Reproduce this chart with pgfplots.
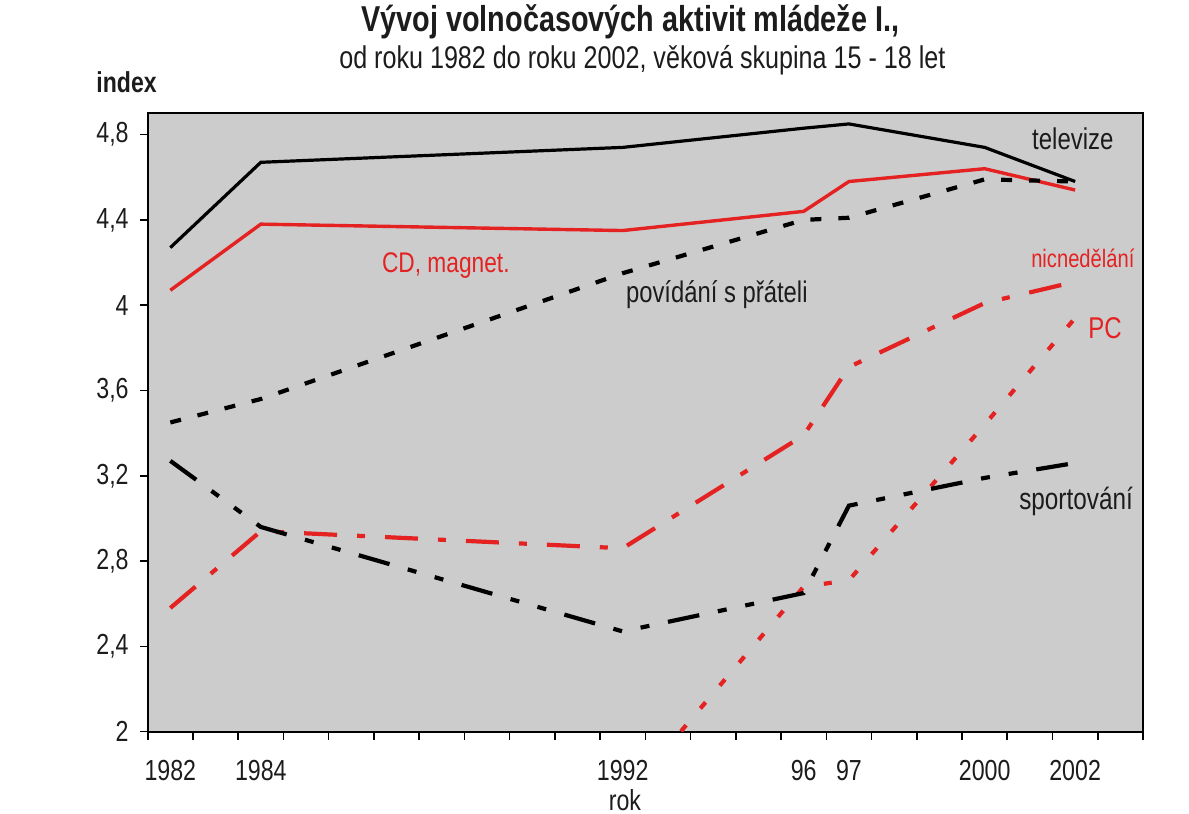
\documentclass[border=0pt]{standalone}
\usepackage{fontspec}
\setmainfont{Liberation Sans}[FakeStretch=0.8]
\usepackage{pgfplots}
\pgfplotsset{compat=1.18}
\definecolor{bg}{RGB}{204,204,205}
\definecolor{myred}{RGB}{228,34,34}
\definecolor{txt}{RGB}{28,28,28}
\begin{document}
\begin{tikzpicture}
\begin{axis}[
  name=ax, scale only axis, width=497.65pt, height=309.2pt,
  xmin=1981.5, xmax=2003.5, ymin=2, ymax=4.9,
  axis background/.style={fill=bg},
  axis line style={black, line width=1pt},
  clip mode=individual,
  tick align=outside,
  xtick pos=bottom, ytick pos=left,
  xtick={1981.5,1982.5,1983.5,1984.5,1985.5,1986.5,1987.5,1988.5,1989.5,1990.5,1991.5,1992.5,1993.5,1994.5,1995.5,1996.5,1997.5,1998.5,1999.5,2000.5,2001.5,2002.5,2003.5},
  xticklabels={},
  extra x ticks={1982,1984,1992,1996,1997,2000,2002},
  extra x tick labels={1982,1984,1992,96,97,2000,2002},
  extra x tick style={major tick length=0pt, tick style={draw=none}},
  major x tick style={black, line width=0.8pt},
  ytick={2,2.4,2.8,3.2,3.6,4,4.4,4.8},
  yticklabels={2,{2,4},{2,8},{3,2},{3,6},4,{4,4},{4,8}},
  major y tick style={black, line width=0.8pt},
  major tick length=4pt,
  tick label style={font=\fontsize{14.5}{16}\selectfont, text=txt},
  xticklabel style={yshift=-11pt},
  yticklabel style={xshift=-2pt},
]
\addplot[black, line width=1.6pt] coordinates {(1982,4.27)(1984,4.67)(1992,4.74)(1996,4.83)(1997,4.85)(2000,4.74)(2002,4.58)};
\addplot[myred, line width=1.7pt] coordinates {(1982,4.07)(1984,4.38)(1992,4.35)(1996,4.44)(1997,4.58)(2000,4.64)(2002,4.54)};
\addplot[black, line width=2.1pt, dash pattern=on 5.5pt off 8.5pt] coordinates {(1982,3.45)(1984,3.56)(1992,4.15)(1996,4.40)(1997,4.41)(2000,4.59)(2002,4.58)};
\addplot[myred, line width=2.1pt, dash pattern=on 16.5pt off 10pt on 4pt off 10pt] coordinates {(1982,2.58)(1984,2.94)(1992,2.86)(1996,3.39)(1997,3.71)(2000,4.01)(2002,4.11)};
\addplot[myred, line width=2.1pt, dash pattern=on 4pt off 11pt] coordinates {(1992,1.68)(1996,2.68)(1997,2.71)(2000,3.44)(2002,3.94)};
\addplot[black, line width=2.1pt, dash pattern=on 16pt off 9.5pt on 4.5pt off 9.5pt on 4.5pt off 9.5pt] coordinates {(1982,3.27)(1984,2.96)(1992,2.47)(1996,2.65)(1997,3.06)(2000,3.19)(2002,3.26)};

\node[text=txt, font=\fontsize{15}{17}\selectfont] at (axis cs:2001.95,4.78) {televize};
\node[text=myred, font=\fontsize{14.2}{16}\selectfont] at (axis cs:1988.09,4.184) {CD, magnet.};
\node[text=txt, font=\fontsize{14.9}{17}\selectfont] at (axis cs:1994.08,4.048) {povídání s přáteli};
\node[text=myred, font=\fontsize{12.6}{14}\selectfont] at (axis cs:2002.17,4.221) {nicnedělání};
\node[text=myred, font=\fontsize{15}{17}\selectfont] at (axis cs:2002.66,3.893) {PC};
\node[text=txt, font=\fontsize{15.2}{17}\selectfont] at (axis cs:2002.02,3.078) {sportování};

\node[font=\bfseries\fontsize{18}{20}\selectfont, text=txt] at (rel axis cs:0.485,1.1477) {Vývoj volnočasových aktivit mládeže I.,};
\node[font=\fontsize{15.7}{18}\selectfont, text=txt] at (rel axis cs:0.497,1.0862) {od roku 1982 do roku 2002, věková skupina 15 - 18 let};
\node[font=\bfseries\fontsize{14.4}{16}\selectfont, text=txt, anchor=west, inner sep=0pt] at (rel axis cs:-0.0519,1.0506) {index};
\node[font=\fontsize{14.5}{16}\selectfont, text=txt] at (rel axis cs:0.4795,-0.1104) {rok};

\coordinate (bbSW) at (rel axis cs:-0.1484,-0.1331);
\coordinate (bbNE) at (rel axis cs:1.0462,1.1832);
\end{axis}
\pgfresetboundingbox
\path (bbSW) rectangle (bbNE);
\end{tikzpicture}
\end{document}
